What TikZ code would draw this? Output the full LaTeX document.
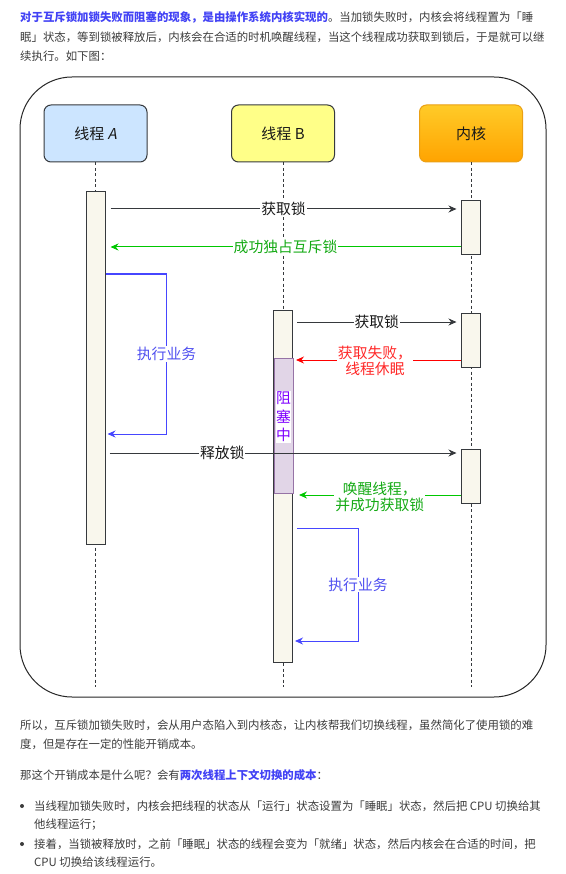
\documentclass[tikz,border=0pt]{standalone}
\usepackage{fontspec}
\setmainfont{Noto Sans CJK SC}[AutoFakeSlant=0.2]
\usetikzlibrary{arrows.meta,calc}
\definecolor{txt}{RGB}{60,60,60}
\definecolor{hlc}{RGB}{66,66,245}
\definecolor{edge}{RGB}{54,57,61}
\definecolor{afill}{RGB}{204,229,255}
\definecolor{bfill}{RGB}{255,255,136}
\definecolor{ktop}{RGB}{255,203,40}
\definecolor{kbot}{RGB}{255,163,0}
\definecolor{kstroke}{RGB}{235,160,20}
\definecolor{actfill}{RGB}{249,247,237}
\definecolor{blkfill}{RGB}{225,213,231}
\definecolor{blkedge}{RGB}{150,115,166}
\definecolor{blktxt}{RGB}{127,0,255}
\definecolor{myblue}{RGB}{70,70,255}
\definecolor{mybluetxt}{RGB}{80,80,240}
\definecolor{mygreen}{RGB}{0,200,0}
\definecolor{mygreentxt}{RGB}{20,170,20}
\definecolor{myred}{RGB}{255,0,0}
\definecolor{myredtxt}{RGB}{255,40,40}
\newcommand\hlb[1]{{\bfseries\color{hlc}#1}}
\begin{document}
\begin{tikzpicture}[x=1pt,y=-1pt,
  para/.style={anchor=west,inner sep=0pt,text=txt,font=\fontsize{11.4}{14}\selectfont},
  actor/.style={draw=edge,line width=1pt,rounded corners=7pt,minimum width=103pt,minimum height=57pt,inner sep=0pt,text=black!90,font=\fontsize{15}{18}\selectfont},
  life/.style={draw=edge,line width=1pt,dash pattern=on 3pt off 2.5pt},
  act/.style={draw=edge,fill=actfill,line width=1pt,minimum width=19pt,inner sep=0pt},
  msg/.style={draw=edge,line width=1pt,-{Stealth[length=8pt,width=7pt]}},
  lbl/.style={fill=white,inner sep=1pt,text=black!90,font=\fontsize{14.8}{16.5}\selectfont,align=center},
]
\useasboundingbox[fill=white] (0,0) rectangle (565,874);

% top text
\node[para] (t1) at (20,17) {\hlb{对于互斥锁加锁失败而阻塞的现象，是由操作系统内核实现的}。当加锁失败时，内核会将线程置为「睡};
\node[para] (t2) at (20,37) {眠」状态，等到锁被释放后，内核会在合适的时机唤醒线程，当这个线程成功获取到锁后，于是就可以继};
\node[para] (t3) at (20,56) {续执行。如下图：};

% frame
\node[draw=black!85,line width=1pt,rounded corners=52pt,minimum width=526pt,minimum height=620pt,inner sep=0pt] (frame) at (283,387) {};

% actors
\node[actor,fill=afill] (A) at (95.5,133.5) {线程 \textit{A}};
\node[actor,fill=bfill] (B) at (283,133.5) {线程 B};
\node[actor,draw=kstroke,top color=ktop,bottom color=kbot] (K) at (471,133.5) {内核};

% lifelines
\draw[life] (A.south) -- (A.south |- 0,687);
\draw[life] (B.south) -- (B.south |- 0,687);
\draw[life] (K.south) -- (K.south |- 0,687);

% activations
\node[act,minimum height=352pt] (actA) at (95.5,368) {};
\node[act,minimum height=54pt] (actK1) at (470.5,228) {};
\node[act,minimum height=352pt] (actB) at (283,486) {};
\node[act,minimum height=54pt] (actK2) at (470.5,340) {};
\node[act,minimum height=54pt] (actK3) at (470.5,476) {};
\node[draw=blkedge,fill=blkfill,line width=1pt,minimum width=19pt,minimum height=135pt,inner sep=0pt] (blk) at (283.5,425.5) {};
\node[fill=white,inner sep=0.5pt,text=blktxt,font=\fontsize{14.8}{18.5}\selectfont,align=center] (blkt) at (blk.center |- 0,417) {阻\\塞\\中};

% messages
\draw[msg] ($(actA.east |- 0,209)+(5,0)$) -- node[lbl]{获取锁} ($(actK1.west |- 0,209)+(-4,0)$);
\draw[msg,draw=mygreen] (actK1.west |- 0,247) -- node[lbl,text=mygreentxt]{成功独占互斥锁} ($(actA.east |- 0,247)+(5,0)$);
\draw[msg,draw=myblue] (actA.east |- 0,274) -- ++(61,0) -- node[lbl,text=mybluetxt]{执行业务} ++(0,160) -- ($(actA.east |- 0,434)+(2,0)$);

\draw[msg] ($(actB.east |- 0,322)+(4,0)$) -- node[lbl]{获取锁} ($(actK2.west |- 0,322)+(-4,0)$);
\draw[msg,draw=myred] (actK2.west |- 0,360) -- node[lbl,text=myredtxt,pos=0.52,yshift=-1pt]{获取失败，\\线程休眠} ($(actB.east |- 0,360)+(3,0)$);

\draw[msg] ($(actA.east |- 0,453)+(4,0)$) -- node[lbl,pos=0.325]{释放锁} ($(actK3.west |- 0,453)+(-4,0)$);
\draw[msg,draw=mygreen] (actK3.west |- 0,495) -- node[lbl,text=mygreentxt,pos=0.5,yshift=-2pt]{唤醒线程，\\并成功获取锁} ($(actB.east |- 0,495)+(6,0)$);
\draw[msg,draw=myblue] ($(actB.east |- 0,528)+(4,0)$) -- ++(61,0) -- node[lbl,text=mybluetxt]{执行业务} ++(0,113) -- ($(actB.east |- 0,641)+(2,0)$);

% bottom text
\node[para] (p1) at (20,725) {所以，互斥锁加锁失败时，会从用户态陷入到内核态，让内核帮我们切换线程，虽然简化了使用锁的难};
\node[para] (p2) at (20,744) {度，但是存在一定的性能开销成本。};
\node[para] (p3) at (20,775) {那这个开销成本是什么呢？会有\hlb{两次线程上下文切换的成本}：};
\node[circle,fill=txt,inner sep=0pt,minimum size=4pt] (b1) at (22,806) {};
\node[para] (b1a) at (34,806) {当线程加锁失败时，内核会把线程的状态从「运行」状态设置为「睡眠」状态，然后把 CPU 切换给其};
\node[para] (b1b) at (34,825) {他线程运行；};
\node[circle,fill=txt,inner sep=0pt,minimum size=4pt] (b2) at (22,844) {};
\node[para] (b2a) at (34,844) {接着，当锁被释放时，之前「睡眠」状态的线程会变为「就绪」状态，然后内核会在合适的时间，把};
\node[para] (b2b) at (34,862) {CPU 切换给该线程运行。};
\end{tikzpicture}
\end{document}
